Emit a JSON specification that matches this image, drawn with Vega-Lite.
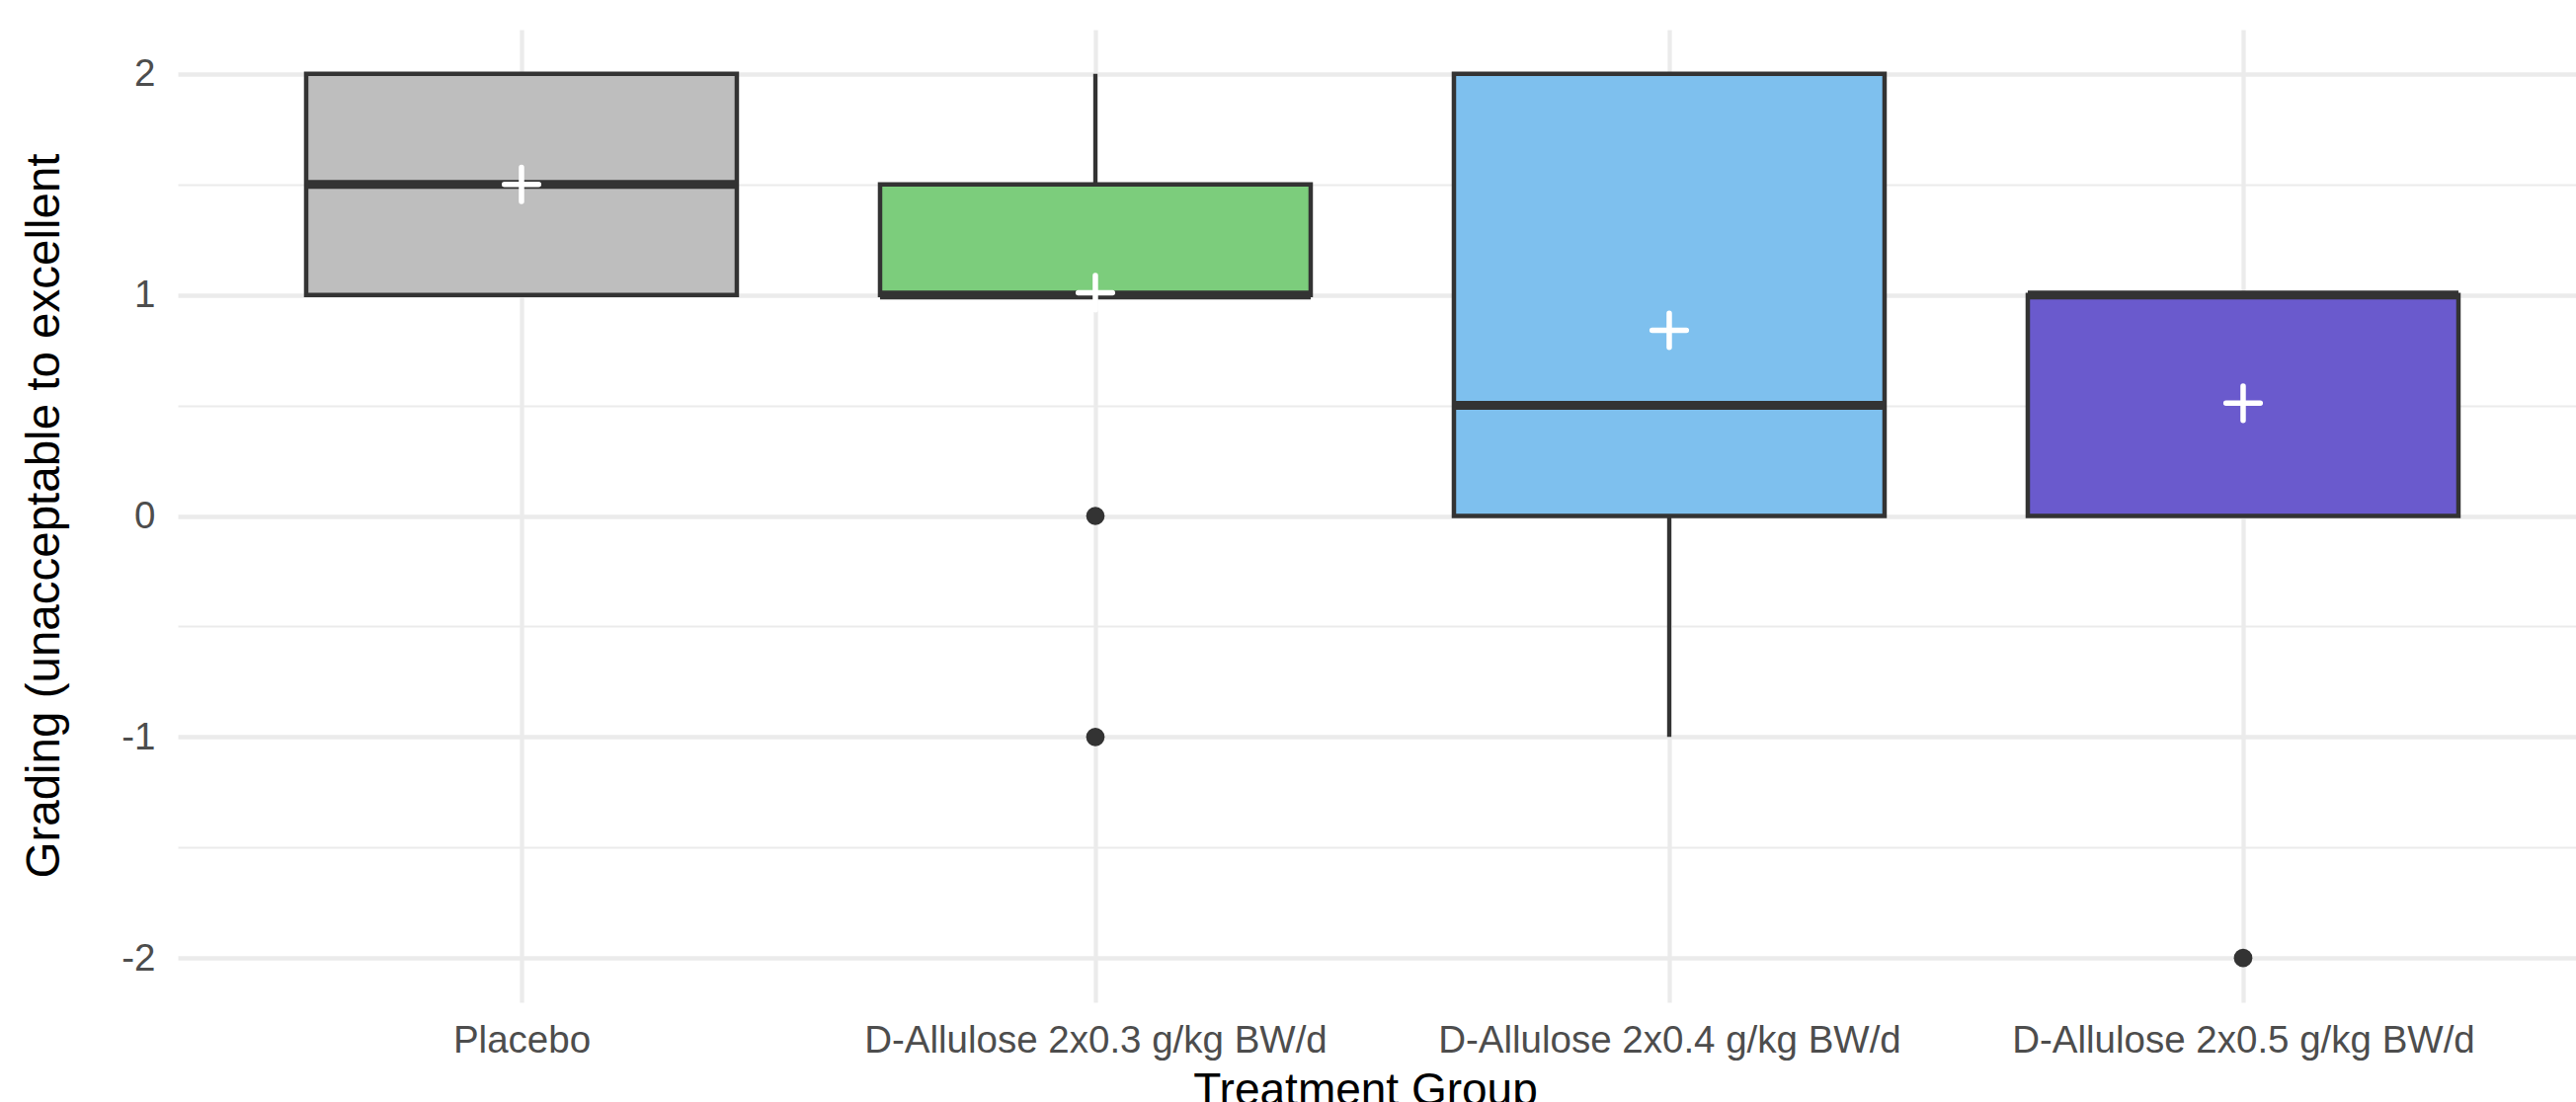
{
  "$schema": "https://vega.github.io/schema/vega-lite/v6.json",
  "autosize": "none",
  "width": 2428,
  "height": 985,
  "padding": {"left": 180, "top": 30, "right": 0, "bottom": 101},
  "background": "white",
  "config": {"view": {"stroke": null}, "font": "Liberation Sans"},
  "datasets": {
    "boxes": [
      {"group": "Placebo", "lower": 1, "q1": 1, "median": 1.5, "q3": 2, "upper": 2, "mean": 1.5},
      {"group": "D-Allulose 2x0.3 g/kg BW/d", "lower": 1, "q1": 1, "median": 1, "q3": 1.5, "upper": 2, "mean": 1.01},
      {"group": "D-Allulose 2x0.4 g/kg BW/d", "lower": -1, "q1": 0, "median": 0.5, "q3": 2, "upper": 2, "mean": 0.84},
      {"group": "D-Allulose 2x0.5 g/kg BW/d", "lower": 0, "q1": 0, "median": 1, "q3": 1, "upper": 1, "mean": 0.51}
    ],
    "outliers": [
      {"group": "D-Allulose 2x0.3 g/kg BW/d", "value": 0},
      {"group": "D-Allulose 2x0.3 g/kg BW/d", "value": -1},
      {"group": "D-Allulose 2x0.5 g/kg BW/d", "value": -2}
    ]
  },
  "layer": [
    {
      "data": {"name": "boxes"},
      "mark": {"type": "rule", "stroke": "#333333", "strokeWidth": 4.3},
      "encoding": {
        "x": {
          "field": "group", "type": "nominal",
          "sort": ["Placebo", "D-Allulose 2x0.3 g/kg BW/d", "D-Allulose 2x0.4 g/kg BW/d", "D-Allulose 2x0.5 g/kg BW/d"],
          "scale": {"type": "point", "padding": 0.5895, "align": 0.508},
          "axis": {
            "domain": false, "ticks": false, "tickSize": 0,
            "grid": true, "gridColor": "#EBEBEB", "gridWidth": 4.3,
            "labelFontSize": 38.5, "labelColor": "#4D4D4D", "labelPadding": 20, "labelAngle": 0, "labelLimit": 2000, "labelFont": "Liberation Sans",
            "title": "Treatment Group", "titleFontSize": 46, "titleColor": "black", "titleFontWeight": "normal", "titleFont": "Liberation Sans",
            "titleX": 1202, "titleY": 103, "titleBaseline": "alphabetic", "titleAlign": "center", "titleAnchor": null, "titleLimit": 3000
          }
        },
        "y": {
          "field": "lower", "type": "quantitative",
          "scale": {"domain": [-2.2, 2.2], "nice": false, "zero": false},
          "axis": {
            "domain": false, "ticks": false, "tickSize": 0,
            "values": [-2, -1.5, -1, -0.5, 0, 0.5, 1, 1.5, 2],
            "grid": true, "gridColor": "#EBEBEB",
            "gridWidth": {"condition": {"test": "datum.value % 1 !== 0", "value": 2.2}, "value": 4.3},
            "labelExpr": "datum.value % 1 === 0 ? toString(datum.value) : ''",
            "labelFontSize": 38.5, "labelColor": "#4D4D4D", "labelPadding": 23, "labelFont": "Liberation Sans",
            "title": "Grading (unacceptable to excellent", "titleFontSize": 47.5, "titleColor": "black", "titleFontWeight": "normal", "titleFont": "Liberation Sans",
            "titleX": -121, "titleY": 492, "titleAngle": 270, "titleBaseline": "alphabetic", "titleAlign": "center", "titleLimit": 3000
          }
        },
        "y2": {"field": "upper"}
      }
    },
    {
      "data": {"name": "boxes"},
      "mark": {"type": "bar", "size": 436, "stroke": "#333333", "strokeWidth": 4.5, "opacity": 1},
      "encoding": {
        "x": {"field": "group", "type": "nominal", "sort": ["Placebo", "D-Allulose 2x0.3 g/kg BW/d", "D-Allulose 2x0.4 g/kg BW/d", "D-Allulose 2x0.5 g/kg BW/d"]},
        "y": {"field": "q3", "type": "quantitative"},
        "y2": {"field": "q1"},
        "color": {
          "field": "group", "type": "nominal",
          "scale": {"domain": ["Placebo", "D-Allulose 2x0.3 g/kg BW/d", "D-Allulose 2x0.4 g/kg BW/d", "D-Allulose 2x0.5 g/kg BW/d"], "range": ["#BEBEBE", "#7CCD7C", "#7EC0EE", "#6A5ACD"]},
          "legend": null
        }
      }
    },
    {
      "data": {"name": "boxes"},
      "mark": {"type": "tick", "size": 436, "thickness": 9, "color": "#333333", "opacity": 1},
      "encoding": {
        "x": {"field": "group", "type": "nominal", "sort": ["Placebo", "D-Allulose 2x0.3 g/kg BW/d", "D-Allulose 2x0.4 g/kg BW/d", "D-Allulose 2x0.5 g/kg BW/d"]},
        "y": {"field": "median", "type": "quantitative"}
      }
    },
    {
      "data": {"name": "outliers"},
      "mark": {"type": "circle", "size": 350, "color": "#333333", "opacity": 1},
      "encoding": {
        "x": {"field": "group", "type": "nominal", "sort": ["Placebo", "D-Allulose 2x0.3 g/kg BW/d", "D-Allulose 2x0.4 g/kg BW/d", "D-Allulose 2x0.5 g/kg BW/d"]},
        "y": {"field": "value", "type": "quantitative"}
      }
    },
    {
      "data": {"name": "boxes"},
      "mark": {"type": "point", "shape": "M-1,0H1M0,-1V1", "size": 1200, "filled": false, "stroke": "white", "strokeWidth": 5.5, "strokeCap": "round", "opacity": 1},
      "encoding": {
        "x": {"field": "group", "type": "nominal", "sort": ["Placebo", "D-Allulose 2x0.3 g/kg BW/d", "D-Allulose 2x0.4 g/kg BW/d", "D-Allulose 2x0.5 g/kg BW/d"]},
        "y": {"field": "mean", "type": "quantitative"}
      }
    }
  ]
}
